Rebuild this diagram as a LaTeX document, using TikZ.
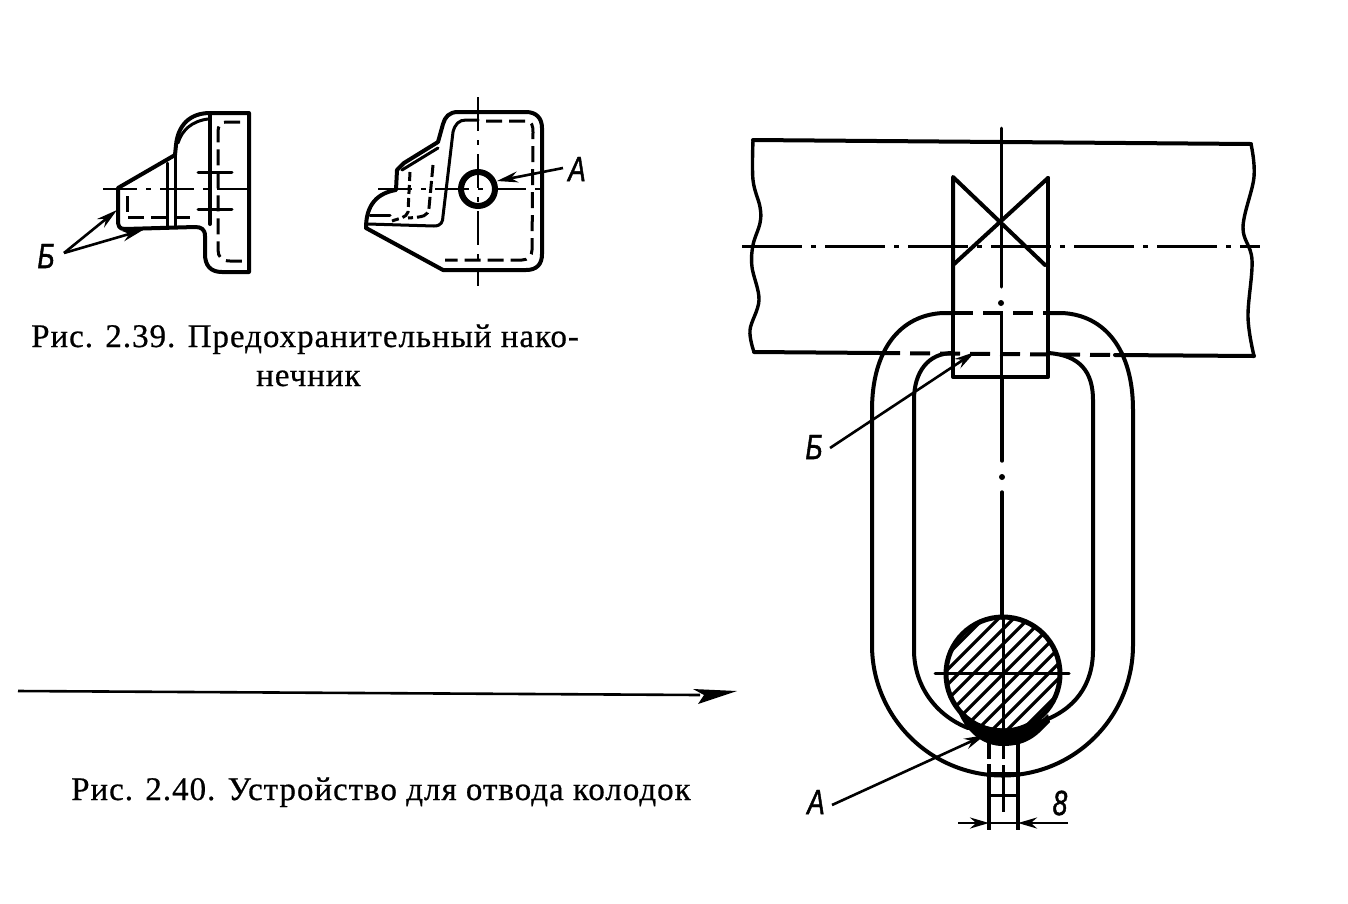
\documentclass[tikz,border=0pt]{standalone}
\usepackage{fontspec}
\setmainfont{Liberation Serif}
\newfontfamily\capfont[LetterSpace=3,FakeBold=0.6]{Liberation Serif}
\newfontfamily\lblfont[FakeStretch=0.75,FakeBold=1.2]{Liberation Sans}
\usetikzlibrary{arrows.meta}
\tikzset{
 mainline/.style={line width=4pt,line join=round,line cap=round},
 thinline/.style={line width=3pt,line cap=round},
 cen/.style={line width=2.6pt,dash pattern=on 34pt off 9pt on 5pt off 9pt},
 hid/.style={line width=3pt,dash pattern=on 16pt off 7pt},
 lead/.style={line width=2.6pt,-{Stealth[length=21pt,width=11pt]}},
 captxt/.style={inner sep=0pt,font=\capfont\fontsize{33}{33}\selectfont,anchor=base west},
 lbl/.style={inner sep=0pt,font=\lblfont\itshape\fontsize{35}{35}\selectfont},
}
\begin{document}
\begin{tikzpicture}[x=1pt,y=-1pt]
\useasboundingbox (0,0) rectangle (1348,903);
% --- Fig 2.39 left view
\draw[mainline] (210,113) -- (249,113) -- (249,272) -- (222,272) .. controls (210,272) and (205,265) .. (205,254)
  -- (205,236) .. controls (205,229) and (201,227) .. (195,227) -- (125,229) .. controls (119,229) and (118,226) .. (118,220)
  -- (118,188) -- (175,155) -- (176,145) .. controls (178,125) and (190,113) .. (210,113);
\draw[thinline] (178,143) .. controls (182,130) and (192,121) .. (208,119);
\draw[mainline] (210,113) -- (210,224);
\draw[thinline] (167,163) -- (167,227) (175,155) -- (175,227);
\draw[hid] (240,122) -- (226,122) .. controls (220,122) and (218,126) .. (218,132) -- (218,250) .. controls (218,257) and (222,261) .. (230,261) -- (245,261);
\draw[cen] (103,189) -- (258,189);
\draw[hid] (128,217) -- (190,217);
\draw[hid] (127,196) -- (127,217);
\draw[thinline] (198,172) -- (232,172) (198,209) -- (232,209);
\coordinate (ba) at (117,210);
\coordinate (bb) at (143,230);
\node[lbl] (b1) at (46,256) {Б};
\coordinate (bo) at (64,253);
\draw[lead] (bo) -- (ba);
\draw[lead] (bo) -- (bb);
% --- Fig 2.39 right view
\draw[mainline] (366,228) -- (443,270) -- (526,270) .. controls (537,270) and (542,264) .. (542,254) -- (542,128) .. controls (542,118) and (536,112) .. (526,112)
  -- (458,112) .. controls (449,112) and (445,117) .. (443,124) -- (438,142) -- (404,163) -- (397,170) -- (396,190)
  .. controls (378,193) and (366,204) .. (366,228);
\draw[thinline] (368,224) -- (434,226) .. controls (441,226) and (443,222) .. (443,216) -- (453,132) .. controls (455,124) and (459,120) .. (466,120) -- (478,120);
\draw[thinline] (402,170) -- (438,148);
\draw[hid] (486,121) -- (526,121) .. controls (532,121) and (533,126) .. (533,132) -- (532,250) .. controls (532,256) and (528,260) .. (522,260) -- (445,260);
\draw[line width=3pt,dash pattern=on 9pt off 4pt] (410,172) -- (408,212) .. controls (406,218) and (400,218) .. (392,221);
\draw[line width=3pt,dash pattern=on 12pt off 4pt] (433,165) -- (429,208) .. controls (428,216) and (424,217) .. (408,218);
\draw[thinline] (370,215) -- (390,215);
\draw[cen] (378,189) -- (548,189);
\draw[cen] (478,97) -- (478,286);
\node[draw,circle,line width=6pt,minimum size=34pt,inner sep=0pt,fill=none] (hole) at (478,189) {};
\node[lbl] (a1) at (577,169) {А};
\draw[lead] (563,168) -- (497,181);
% --- Captions
\node[captxt] (c1) at (31,347) {Рис. 2.39. Предохранительный нако-};
\node[captxt] (c2) at (256,386) {нечник};
\node[captxt] (c3) at (71,800) {Рис. 2.40. Устройство для отвода колодок};
% --- long arrow
\coordinate (s) at (18,691);
\coordinate (e) at (737,691);
\draw[line width=2.6pt] (s) -- (700,695);
\fill (693,689) -- (e) -- (698,704) -- (704,695) -- cycle;
% --- Fig 2.40
\draw[mainline] (753,140) -- (1251,144);
\draw[mainline] (754,352) -- (880,353);
\draw[line width=4pt,dash pattern=on 20pt off 10pt] (880,353) -- (1115,355);
\draw[mainline] (1115,355) -- (1254,356);
\draw[line width=3.4pt] plot[smooth,tension=0.6] coordinates {(753,140) (753,180) (760,207) (760,223) (753,245) (752,267) (759,300) (750,330) (754,352)};
\draw[line width=3.4pt] plot[smooth,tension=0.6] coordinates {(1251,144) (1254,177) (1243,227) (1252,260) (1248,317) (1254,356)};
\draw[cen,line width=3pt,dash pattern=on 60pt off 9pt on 5pt off 9pt] (742,246) -- (1260,246);
\draw[mainline] (953,313) -- (953,377) -- (1048,377) -- (1048,178);
\draw[mainline] (953,313) -- (953,177) -- (1045,265);
\draw[mainline] (1048,178) -- (953,265);
\draw[line width=3.4pt,dash pattern=on 20pt off 10pt] (953,313) -- (1048,313);
% outer link
\draw[mainline] (953,313) -- (943,313) .. controls (900,315) and (872,350) .. (872,410) -- (872,645) arc[start angle=180,end angle=0,radius=130.5] -- (1133,410) .. controls (1133,350) and (1105,315) .. (1062,313) -- (1048,313);
% inner link
\draw[mainline] (953,353) .. controls (928,353) and (914,372) .. (914,400) -- (914,650) .. controls (914,685) and (935,715) .. (968,728);
\draw[mainline] (1048,353) .. controls (1080,355) and (1093,372) .. (1093,400) -- (1093,650) .. controls (1093,685) and (1075,710) .. (1040,722);
% pin
\begin{scope}
\clip (1003,674) circle[radius=56];
\foreach \k in {-9,...,9} {
  \draw[line width=3.2pt] ({1003+\k*15-70},{674+70}) -- ({1003+\k*15+70},{674-70});
}
\end{scope}
\node[draw,circle,line width=5pt,minimum size=114pt,inner sep=0pt] (pin) at (1003,674) {};
\fill (958,712) .. controls (975,732) and (1030,735) .. (1048,714) -- (1050,722) .. controls (1040,732) and (1030,746) .. (1003,746) .. controls (985,746) and (968,735) .. (958,712) -- cycle;
\draw[line width=3pt,line cap=round] (1001,128) -- (1001,287);
\fill (1001,303) circle[radius=3];
\draw[line width=3pt] (1001,313) -- (1001,377);
\draw[line width=3.4pt,line cap=round] (1002,377) -- (1002,461);
\fill (1002,477) circle[radius=3];
\draw[line width=3.4pt,line cap=round] (1002,492) -- (1002,618);
\draw[line width=3pt] (1003,618) -- (1003,735);
\draw[line width=3pt,dash pattern=on 14pt off 6pt] (1003,745) -- (1003,773);
\draw[line width=3pt] (1003,773) -- (1003,812);
\draw[thinline] (935,673) -- (1069,673);
% weld detail
\draw[line width=3.4pt,dash pattern=on 16pt off 5pt] (989,743) -- (989,773);
\draw[line width=3.4pt] (1018,743) -- (1018,773);
\draw[line width=3.4pt] (989,773) -- (989,830) (1018,773) -- (1018,830);
\draw[thinline] (989,773) -- (1018,773) (989,795) -- (1018,795);
% dimension
\coordinate (dl) at (989,823);
\coordinate (dr) at (1018,823);
\draw[line width=2.6pt,-{Stealth[length=19pt,width=11pt]}] (958,823) -- (dl);
\draw[line width=2.6pt,-{Stealth[length=19pt,width=11pt]}] (1068,823) -- (dr);
\draw[line width=2.6pt] (dl) -- (dr);
\node[lbl] (d8) at (1060,803) {8};
\node[lbl] (a2) at (816,802) {А};
\node[lbl] (b2) at (814,447) {Б};
\draw[lead] (832,805) -- (985,735);
\draw[lead] (830,448) -- (975,352);
\end{tikzpicture}
\end{document}
